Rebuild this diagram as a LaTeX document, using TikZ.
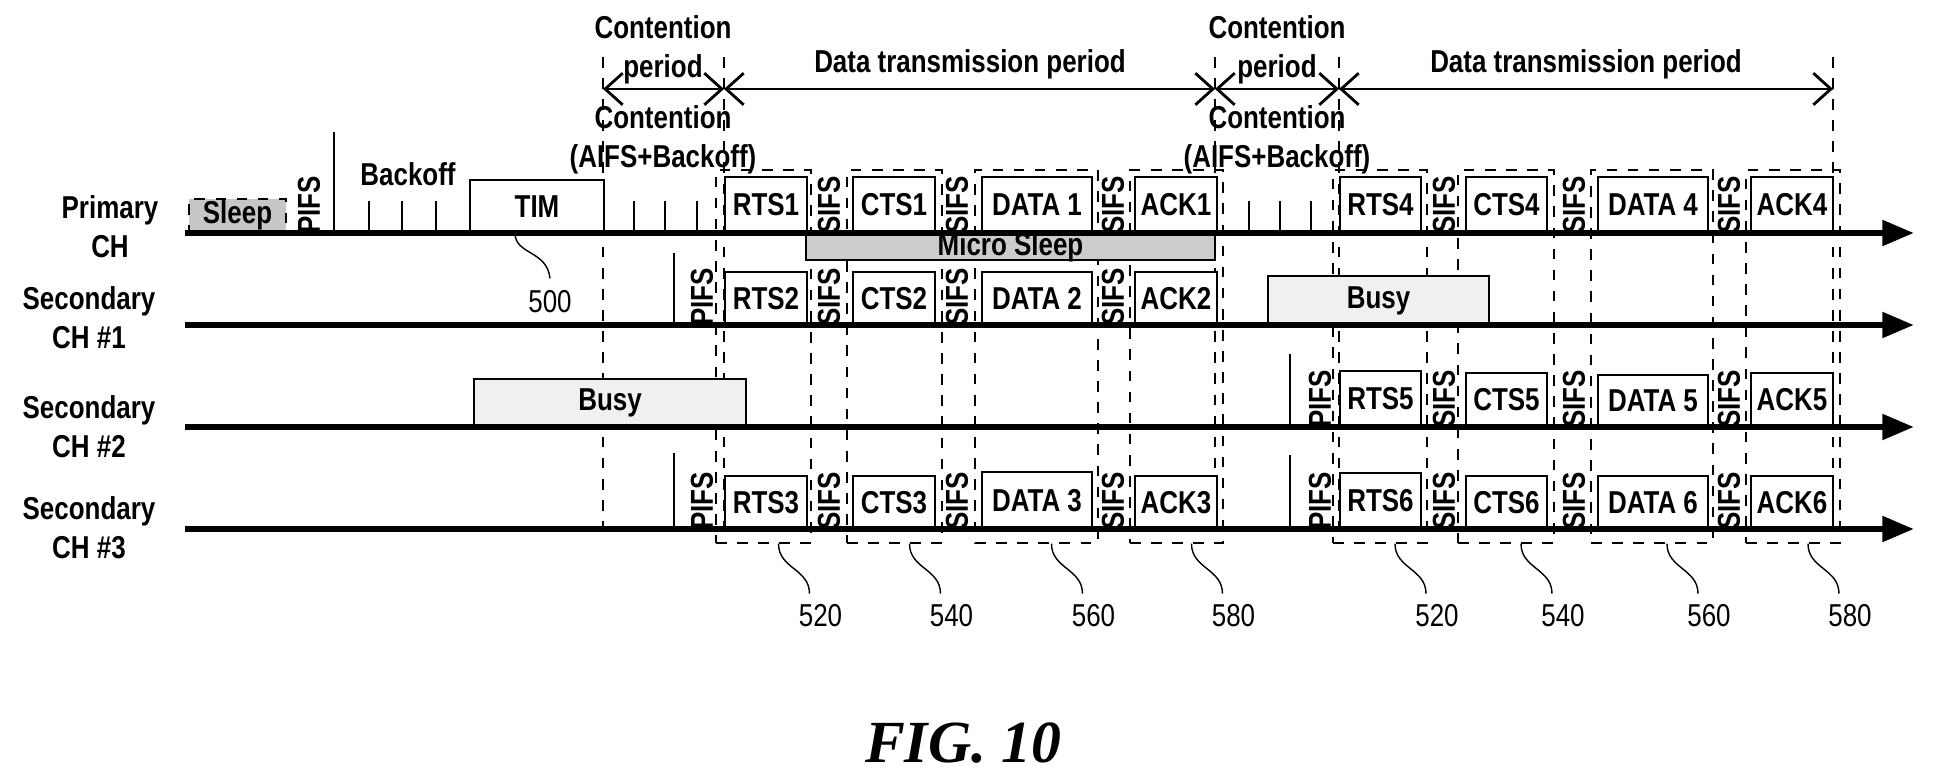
\documentclass[tikz,border=0pt]{standalone}
\usepackage{fontspec}
\setmainfont[FakeStretch=0.82]{Liberation Sans}
\newfontfamily\figfont{Liberation Serif}
\usetikzlibrary{arrows.meta, calc, positioning, fit}

% packet box from (x1,top) to (x2,bottom)
\newcommand\pkt[6]{\node[pkt, fit={(#2,#4) (#3,#5)}, label={[lbl]center:#6}] (#1) {};}
% dashed group frame
\newcommand\grp[3]{\node[grp, fit={(#2,170) (#3,543)}] (#1) {};}

\begin{document}
\begin{tikzpicture}[x=0.01cm, y=-0.01cm,
    pkt/.style={draw, thick, fill=white, inner sep=0pt},
    lbl/.style={font=\bfseries\fontsize{9}{10}\selectfont},
    grp/.style={draw, dashed, thin, inner sep=0pt},
    vt/.style={font=\bfseries\fontsize{9}{10}\selectfont, rotate=90},
    txt/.style={font=\bfseries\fontsize{9}{11}\selectfont, align=center},
    num/.style={font=\fontsize{9}{10}\selectfont},
    axis/.style={line width=1.8pt, -{Triangle[length=9pt, width=7pt]}},
    span/.style={thick, {Straight Barb[length=5pt, width=9pt]}-{Straight Barb[length=5pt, width=9pt]}},
    vdash/.style={dashed, thin}
]
\useasboundingbox (0,0) rectangle (1938,779);

% channel labels
\node[txt] (lp) at (110,227) {Primary\\CH};
\node[txt] (ls1) at (89,318) {Secondary\\CH \#1};
\node[txt] (ls2) at (89,427) {Secondary\\CH \#2};
\node[txt] (ls3) at (89,528) {Secondary\\CH \#3};

% axes
\coordinate (p0) at (185,233); \coordinate (p1) at (1914,233);
\coordinate (s10) at (185,325); \coordinate (s11) at (1914,325);
\coordinate (s20) at (185,427); \coordinate (s21) at (1914,427);
\coordinate (s30) at (185,529); \coordinate (s31) at (1914,529);

% period borders
\foreach \x in {603,724,1215,1339,1833}
  \draw[vdash] (\x,57) -- (\x,540);
\coordinate (b0) at (603,89); \coordinate (b1) at (724,89);
\coordinate (b2) at (1215,89); \coordinate (b3) at (1339,89);
\coordinate (b4) at (1833,89);
\draw[span] (b0) -- (b1);
\draw[span] (b1) -- (b2);
\draw[span] (b2) -- (b3);
\draw[thick, -{Straight Barb[length=5pt, width=9pt]}] (b3) -- (b4);
\draw[thick, {Straight Barb[length=5pt, width=9pt]}-] (b3) -- (b4);
\node[txt] (cp1) at (663,50) {Contention\\period};
\node[txt] (dp1) at (970,64) {Data transmission period};
\node[txt] (cp2) at (1277,50) {Contention\\period};
\node[txt] (dp2) at (1586,64) {Data transmission period};
\node[txt] (ca1) at (663,140) {Contention\\(AIFS+Backoff)};
\node[txt] (ca2) at (1277,140) {Contention\\(AIFS+Backoff)};

% group frames
\grp{g1}{716}{811} \grp{g2}{847}{942} \grp{g3}{975}{1098} \grp{g4}{1130}{1223}
\grp{g5}{1333}{1427} \grp{g6}{1458}{1554} \grp{g7}{1591}{1713} \grp{g8}{1746}{1840}

% primary channel
\node[draw, dashed, fill=gray!45, inner sep=0pt, fit={(189,199) (286,232)},
  label={[lbl]center:Sleep}] (sleep) {};
\draw[thick] (334,233) -- (334,132);
\node[vt] (pifs0) at (309,205) {PIFS};
\node[lbl] (bo) at (408,174) {Backoff};
\foreach \x in {369,402,436,634,665,697,1249,1280,1311}
  \draw[thick] (\x,233) -- (\x,201);
\pkt{tim}{470}{604}{180}{233}{TIM}
\node[draw, thick, fill=gray!40, inner sep=0pt, fit={(806,235) (1215,260)},
  label={[lbl]center:Micro Sleep}] (msleep) {};
\pkt{rts1}{725}{807}{177}{233}{RTS1}
\pkt{cts1}{853}{935}{177}{233}{CTS1}
\pkt{data1}{982}{1092}{177}{233}{DATA 1}
\pkt{ack1}{1135}{1217}{177}{233}{ACK1}
\pkt{rts4}{1340}{1421}{177}{233}{RTS4}
\pkt{cts4}{1466}{1547}{177}{233}{CTS4}
\pkt{data4}{1598}{1708}{177}{233}{DATA 4}
\pkt{ack4}{1751}{1833}{177}{233}{ACK4}
\foreach \x in {829,957,1113,1444,1574,1729}
  \node[vt] at (\x,205) {SIFS};

% secondary CH #1
\draw[thick] (674,325) -- (674,253);
\node[vt] (pifs1) at (702,297) {PIFS};
\pkt{rts2}{725}{807}{272}{325}{RTS2}
\pkt{cts2}{853}{935}{272}{325}{CTS2}
\pkt{data2}{982}{1092}{272}{325}{DATA 2}
\pkt{ack2}{1135}{1217}{272}{325}{ACK2}
\foreach \x in {829,957,1113}
  \node[vt] at (\x,297) {SIFS};
\node[draw, thin, fill=gray!12, inner sep=0pt, fit={(1268,276) (1489,325)},
  label={[lbl]center:Busy}] (busy1) {};

% secondary CH #2
\node[draw, thin, fill=gray!12, inner sep=0pt, fit={(474,379) (746,427)},
  label={[lbl]center:Busy}] (busy2) {};
\draw[thick] (1290,427) -- (1290,354);
\node[vt] (pifs2) at (1320,399) {PIFS};
\pkt{rts5}{1340}{1421}{371}{427}{RTS5}
\pkt{cts5}{1466}{1547}{373}{427}{CTS5}
\pkt{data5}{1598}{1708}{375}{427}{DATA 5}
\pkt{ack5}{1751}{1833}{373}{427}{ACK5}
\foreach \x in {1444,1574,1729}
  \node[vt] at (\x,399) {SIFS};

% secondary CH #3
\draw[thick] (674,529) -- (674,453);
\node[vt] (pifs3) at (702,501) {PIFS};
\draw[thick] (1290,529) -- (1290,455);
\node[vt] (pifs4) at (1320,501) {PIFS};
\pkt{rts3}{725}{807}{476}{529}{RTS3}
\pkt{cts3}{853}{935}{476}{529}{CTS3}
\pkt{data3}{982}{1092}{472}{529}{DATA 3}
\pkt{ack3}{1135}{1217}{476}{529}{ACK3}
\pkt{rts6}{1340}{1421}{473}{529}{RTS6}
\pkt{cts6}{1466}{1547}{476}{529}{CTS6}
\pkt{data6}{1598}{1708}{476}{529}{DATA 6}
\pkt{ack6}{1751}{1833}{476}{529}{ACK6}
\foreach \x in {829,957,1113,1444,1574,1729}
  \node[vt] at (\x,501) {SIFS};

\draw[axis] (p0) -- (p1);
\draw[axis] (s10) -- (s11);
\draw[axis] (s20) -- (s21);
\draw[axis] (s30) -- (s31);

% reference numerals
\node[num] (n500) at (550,302) {500};
\draw[thin] (515,233) .. controls (515,255) and (547,250) .. (n500.north);
\foreach \g/\n in {g1/520,g2/540,g3/560,g4/580,g5/520,g6/540,g7/560,g8/580}{
  \node[num] (n\g) at ($(\g.south)+(57,72)$) {\n};
  \draw[thin] ($(\g.south)+(15,0)$) .. controls ($(\g.south)+(15,25)$) and ($(\g.south)+(46,25)$) .. ($(\g.south)+(46,50)$);
}

\node[font=\figfont\bfseries\itshape\fontsize{17}{20}\selectfont] (fig) at (963,743) {FIG. 10};
\end{tikzpicture}
\end{document}
